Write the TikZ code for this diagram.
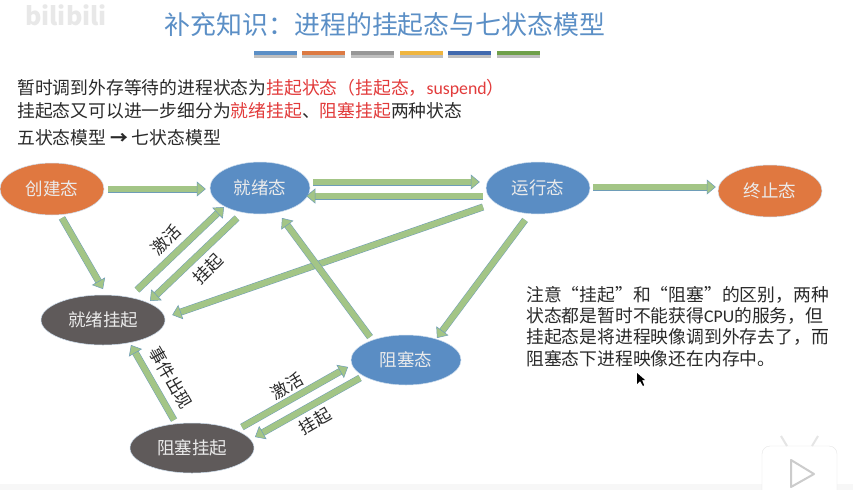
\documentclass[tikz,border=0pt]{standalone}
\usepackage{fontspec}
\setmainfont{Noto Sans CJK SC}
\newfontfamily\latinfont{Carlito}
\usetikzlibrary{arrows.meta,shapes.geometric}
\definecolor{titleblue}{HTML}{5B8FC6}
\definecolor{stateblue}{HTML}{5A8DC4}
\definecolor{stateorange}{HTML}{E07840}
\definecolor{stategray}{HTML}{5F5A5A}
\definecolor{arrowgreen}{HTML}{A3C586}
\definecolor{arrowedge}{HTML}{6E9DB8}
\definecolor{notered}{HTML}{E23B3B}
\definecolor{inktext}{HTML}{2A2A2A}
\newcommand{\redtext}[1]{\textcolor{notered}{#1}}

\begin{document}
\begin{tikzpicture}[x=1pt,y=-1pt,
        state/.style={ellipse,draw=white!70!stateblue,line width=.5pt,inner sep=0pt,
            minimum width=104pt,minimum height=52pt,text=white!92!black,
            font=\fontsize{17.5}{20}\selectfont},
        bluestate/.style={state,fill=stateblue},
        orangestate/.style={state,fill=stateorange},
        graystate/.style={state,fill=stategray,minimum width=124pt,minimum height=50pt},
        blockarrow/.style={draw=arrowedge,line width=.5pt,double=arrowgreen,double distance=6pt,
            -{Triangle[length=9pt,width=15pt,fill=arrowgreen,color=arrowedge,line width=.5pt]}},
        arrowlabel/.style={text=inktext,inner sep=0pt,font=\fontsize{17}{18}\selectfont},
        bodytext/.style={anchor=west,inner sep=0pt,text=inktext,font=\fontsize{17.8}{20}\selectfont}]

  \useasboundingbox (0,0) rectangle (853,490);
  \fill[white] (0,0) rectangle (853,490);

  % header
  \node[text=black!9,inner sep=0pt,font=\fontsize{25}{28}\bfseries\selectfont] (mark) at (66,15) {bilibili};
  \node[text=titleblue,inner sep=0pt,font=\fontsize{25.9}{28}\selectfont] (title) at (385,25) {补充知识^^^^ff1a进程的挂起态与七状态模型};
  \foreach \barx/\barcolor in {254/5B8FC6,302/DD7A42,351/979797,400/EFB53F,448/4169AE,497/6FA04A} {
    \definecolor{barfill}{HTML}{\barcolor}
    \fill[black!25] (\barx,55) rectangle ++(43,2.5);
    \fill[barfill] (\barx,51) rectangle ++(43,4);
  }

  % intro
  \node[bodytext] (line one) at (17,88) {暂时调到外存等待的进程状态为\redtext{挂起状态^^^^ff08挂起态^^^^ff0c{\latinfont suspend}^^^^ff09}};
  \node[bodytext] (line two) at (17,111) {挂起态又可以进一步细分为\redtext{就绪挂起}、\redtext{阻塞挂起}两种状态};
  \node[bodytext] (line three) at (17,138) {五状态模型 {\bfseries →} 七状态模型};

  % states
  \node[orangestate] (create) at (52,189) {创建态};
  \node[bluestate,minimum width=100pt] (ready) at (260,188) {就绪态};
  \node[bluestate] (running) at (538,188) {运行态};
  \node[orangestate] (end) at (770,191) {终止态};
  \node[graystate] (ready suspend) at (103,320) {就绪挂起};
  \node[bluestate,minimum width=110pt,minimum height=50pt] (blocked) at (406,360) {阻塞态};
  \node[graystate] (blocked suspend) at (192,448) {阻塞挂起};

  \draw[blockarrow] ([shift={(4,0)}]create.east) -- ([shift={(-4,1)}]ready.west);
  \draw[blockarrow] ([shift={(10,29)}]create.center) -- ([shift={(0,-31)}]ready suspend.center);
  \draw[blockarrow] ([shift={(3,-6)}]ready.east) -- ([shift={(-6,-6)}]running.west);
  \draw[blockarrow] ([shift={(-3,8)}]running.west) -- ([shift={(-4,8)}]ready.east);
  \draw[blockarrow] ([shift={(3,-1)}]running.east) -- ([shift={(-2,-4)}]end.west);
  \draw[blockarrow] ([shift={(34,-30)}]ready suspend.center) -- ([shift={(-36,19)}]ready.center);
  \draw[blockarrow] ([shift={(-23,30)}]ready.center) -- ([shift={(47,-19)}]ready suspend.center);
  \draw[blockarrow] ([shift={(-55,19)}]running.center) -- ([shift={(7,-5)}]ready suspend.east);
  \draw[blockarrow] ([shift={(-13,32)}]running.center) -- ([shift={(31,-22)}]blocked.center);
  \draw[blockarrow] ([shift={(-36,-23)}]blocked.center) -- ([shift={(22,30)}]ready.center);
  \draw[blockarrow] ([shift={(-18,-28)}]blocked suspend.center) -- ([shift={(28,25)}]ready suspend.center);
  \draw[blockarrow] ([shift={(50,-21)}]blocked suspend.center) -- ([shift={(-58,7)}]blocked.center);
  \draw[blockarrow] ([shift={(-46,18)}]blocked.center) -- ([shift={(63,-11)}]blocked suspend.center);

  \node[arrowlabel,rotate=45] (wake one) at (166,240) {激活};
  \node[arrowlabel,rotate=45] (hang one) at (208,269) {挂起};
  \node[arrowlabel,rotate=-60] (event) at (171,378) {事件出现};
  \node[arrowlabel,rotate=30] (wake two) at (287,386) {激活};
  \node[arrowlabel,rotate=30] (hang two) at (315,421) {挂起};

  % note
  \node[bodytext,anchor=north west,align=left,font=\fontsize{17.8}{21.3}\selectfont] (note) at (526,286)
    {注意^^^^201c挂起^^^^201d和^^^^201c阻塞^^^^201d的区别^^^^ff0c两种\\状态都是暂时不能获得{\latinfont CPU}的服务^^^^ff0c但\\挂起态是将进程映像调到外存去了^^^^ff0c而\\阻塞态下进程映像还在内存中。};

  % player overlay
  \fill[black] (637,373) -- (637,384) -- (640,381) -- (643,386) -- (644,385) -- (642,380) -- (645,380) -- cycle;
  \fill[black!3] (0,484) rectangle (853,490);
  \draw[black!10,fill=white,rounded corners=8pt] (762,490) -- (762,446) -- (837,446) -- (837,490);
  \draw[black!10,line width=2pt] (787,446) -- (781,436) (812,446) -- (818,436);
  \draw[black!20,line width=2pt,line join=round] (791,460) -- (791,487) -- (814,474) -- cycle;
\end{tikzpicture}
\end{document}
